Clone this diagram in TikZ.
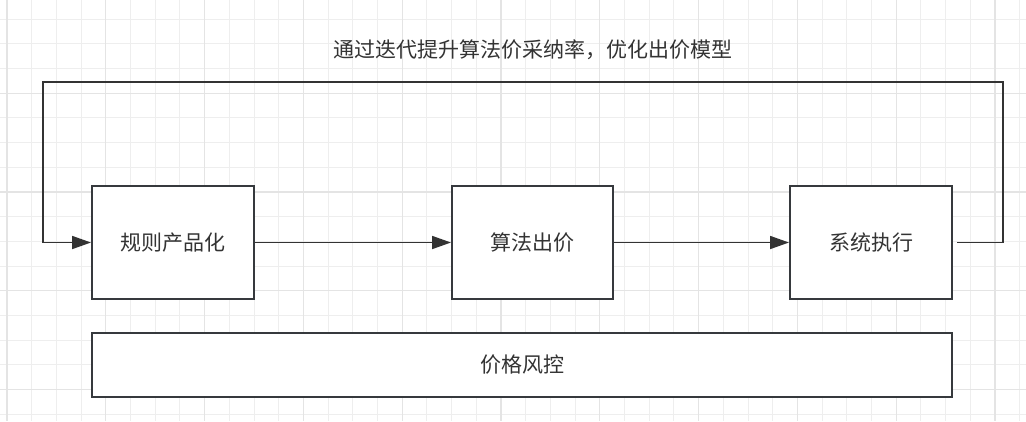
\documentclass[tikz,border=0pt]{standalone}
\usepackage{fontspec}
\setmainfont{Noto Sans CJK SC}
\usetikzlibrary{arrows.meta}
\definecolor{gridminor}{HTML}{EEEEEE}
\definecolor{gridmajor}{HTML}{E4E4E4}
\definecolor{boxline}{HTML}{36393D}
\definecolor{txt}{HTML}{333333}
\tikzset{
  procbox/.style={draw=boxline, line width=2pt, fill=white, inner sep=0pt,
    text=txt, font=\fontsize{21}{24}\selectfont},
  flow/.style={draw=txt, line width=1.8pt,
    -{Triangle[length=19pt,width=13pt]}},
  loopline/.style={draw=txt, line width=1.8pt},
}
\begin{document}
\begin{tikzpicture}[x=1pt,y=-1pt]
\useasboundingbox (0,0) rectangle (1026,421);
\fill[white] (0,0) rectangle (1026,421);
% grid
\foreach \i in {0,...,41} {
  \pgfmathsetmacro{\gx}{7+24.7*\i}
  \draw[gridminor, line width=1pt] (\gx,0) -- (\gx,421);
}
\foreach \j in {0,...,17} {
  \pgfmathsetmacro{\gy}{-5.7+24.7*\j}
  \draw[gridminor, line width=1pt] (0,\gy) -- (1026,\gy);
}
\foreach \i in {0,...,10} {
  \pgfmathsetmacro{\gx}{7+98.8*\i}
  \draw[gridmajor, line width=1.2pt] (\gx,0) -- (\gx,421);
}
\foreach \j in {0,...,4} {
  \pgfmathsetmacro{\gy}{-5.7+98.8*\j}
  \draw[gridmajor, line width=1.2pt] (0,\gy) -- (1026,\gy);
}
% boxes
\node[procbox, minimum width=162pt, minimum height=113pt] (b1) at (173,242.5) {规则产品化};
\node[procbox, minimum width=161pt, minimum height=113pt] (b2) at (532.5,242.5) {算法出价};
\node[procbox, minimum width=162pt, minimum height=113pt] (b3) at (871,242.5) {系统执行};
\node[procbox, minimum width=860pt, minimum height=64pt] (b4) at (522,365) {价格风控};
% title
\node[text=txt, font=\fontsize{21}{24}\selectfont, inner sep=0pt] (title) at (532.5,50) {通过迭代提升算法价采纳率，优化出价模型};
% connectors
\draw[flow] (b1.east) -- (b2.west);
\draw[flow] (b2.east) -- (b3.west);
\coordinate (fbTR) at (1003,82);
\coordinate (fbTL) at (43,82);
\draw[loopline] ([xshift=4pt]b3.east) -| (fbTR) -- (fbTL) |- ([xshift=-17pt]b1.west);
\draw[flow] ([xshift=-19pt]b1.west) -- (b1.west);
\end{tikzpicture}
\end{document}
